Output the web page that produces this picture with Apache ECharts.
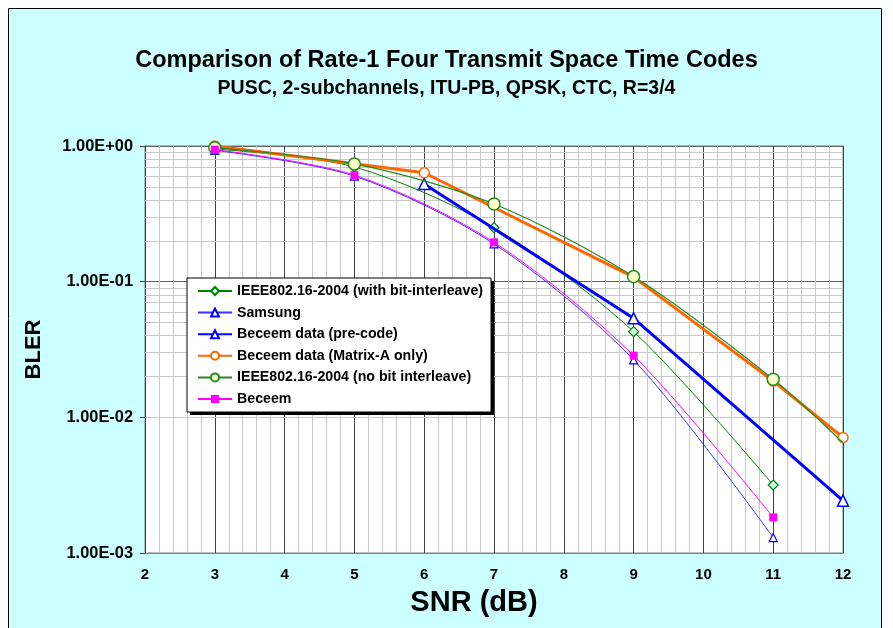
<!DOCTYPE html>
<html>
<head>
<meta charset="utf-8">
<script src="https://cdn.jsdelivr.net/npm/echarts@6/dist/echarts.min.js"></script>
<style>
html,body{margin:0;padding:0;background:#fff;}
#c{width:893px;height:628px;}
</style>
</head>
<body>
<div id="c"></div>
<script>
// ---- data ----
var titleText = 'Comparison of Rate-1 Four Transmit Space Time Codes';
var subtitleText = 'PUSC, 2-subchannels, ITU-PB, QPSK, CTC, R=3/4';
var xTicks = [2, 3, 4, 5, 6, 7, 8, 9, 10, 11, 12];
var yTickLabels = {'0': '1.00E+00', '-1': '1.00E-01', '-2': '1.00E-02', '-3': '1.00E-03'};
var yMinorValues = [0.002,0.003,0.004,0.005,0.006,0.007,0.008,0.009,
                    0.02,0.03,0.04,0.05,0.06,0.07,0.08,0.09,
                    0.2,0.3,0.4,0.5,0.6,0.7,0.8,0.9];

var seriesNames = [
  'IEEE802.16-2004 (with bit-interleave)',
  'Samsung',
  'Beceem data (pre-code)',
  'Beceem data (Matrix-A only)',
  'IEEE802.16-2004 (no bit interleave)',
  'Beceem'
];
var ieeeBitX = [3, 5, 7, 9, 11];
var ieeeBitY = [0.95, 0.70, 0.25, 0.0428, 0.00317];
var samsungX = [3, 5, 7, 9, 11];
var samsungY = [0.93, 0.60, 0.19, 0.0265, 0.0013];
var precodeX = [6, 9, 12];
var precodeY = [0.525, 0.0537, 0.00243];
var matrixAX = [3, 5, 6, 9, 11, 12];
var matrixAY = [1.0, 0.74, 0.635, 0.108, 0.0185, 0.0071];
var ieeeNoBitX = [3, 5, 7, 9, 11, 12];
var ieeeNoBitY = [0.97, 0.738, 0.374, 0.109, 0.0191, 0.0065];
var beceemX = [3, 5, 7, 9, 11];
var beceemY = [0.94, 0.61, 0.195, 0.0285, 0.00183];

function pairs(xs, ys) {
  return xs.map(function (x, i) { return [x, ys[i]]; });
}

var FONT = 'Liberation Sans, Arial, sans-serif';
var chart = echarts.init(document.getElementById('c'), null, {renderer: 'canvas'});

var noBitData = pairs(ieeeNoBitX, ieeeNoBitY);
noBitData[noBitData.length - 1] = {value: noBitData[noBitData.length - 1], symbol: 'none'};

var option = {
  animation: false,
  graphic: [
    {type: 'rect', z: -10, silent: true,
     shape: {x: 8.5, y: 8.5, width: 873, height: 660},
     style: {fill: '#CCFFFF', stroke: '#000', lineWidth: 1}},
    {type: 'rect', z: 19, silent: true,
     shape: {x: 190, y: 281, width: 304, height: 134},
     style: {fill: '#000'}}
  ],
  title: [
    {text: titleText, left: 'center', top: 44, padding: [5, 0, 5, 12],
     textStyle: {fontFamily: FONT, fontWeight: 'bold', fontSize: 23.5, color: '#000'}},
    {text: subtitleText, left: 'center', top: 74, padding: [5, 0, 5, 18],
     textStyle: {fontFamily: FONT, fontWeight: 'bold', fontSize: 19.5, color: '#000'}}
  ],
  legend: {
    orient: 'vertical', left: 187, top: 278,
    width: 303,
    padding: [6, 8, 6, 10],
    itemGap: 7.6, itemWidth: 34, itemHeight: 10,
    backgroundColor: '#fff', borderColor: '#000', borderWidth: 1,
    z: 20,
    data: seriesNames,
    textStyle: {fontFamily: FONT, fontWeight: 'bold', fontSize: 14.2, color: '#000'}
  },
  grid: {left: 145, right: 50, top: 146, bottom: 75, show: true,
         backgroundColor: '#fff', borderColor: '#808080', borderWidth: 1},
  xAxis: {
    type: 'value', min: 2, max: 12, interval: 1,
    name: 'SNR (dB)', nameLocation: 'middle', nameGap: 35,
    nameTextStyle: {fontFamily: FONT, fontWeight: 'bold', fontSize: 29, color: '#000', padding: [0, 40, 0, 0]},
    axisLine: {show: true, lineStyle: {color: '#808080'}},
    axisTick: {show: false},
    axisLabel: {margin: 14, fontFamily: FONT, fontWeight: 'bold', fontSize: 15, color: '#000',
                formatter: function (v) { return xTicks.indexOf(Math.round(v)) >= 0 ? String(Math.round(v)) : ''; }},
    splitLine: {show: true, lineStyle: {color: '#404040', width: 1}},
    minorTick: {show: false, splitNumber: 5},
    minorSplitLine: {show: true, lineStyle: {color: '#c8c8c8', width: 1}}
  },
  yAxis: {
    type: 'log', logBase: 10, min: 0.001, max: 1, splitNumber: 3,
    name: 'BLER', nameLocation: 'middle', nameGap: 100, nameRotate: 90,
    nameTextStyle: {fontFamily: FONT, fontWeight: 'bold', fontSize: 22, color: '#000'},
    axisLine: {show: true, lineStyle: {color: '#404040'}},
    axisTick: {show: true, length: 5, inside: false, lineStyle: {color: '#404040'}},
    axisLabel: {margin: 12, fontFamily: FONT, fontWeight: 'bold', fontSize: 16.4, color: '#000',
                formatter: function (v) {
                  var k = String(Math.round(Math.log(v) / Math.LN10));
                  return yTickLabels[k] || '';
                }},
    splitLine: {show: true, lineStyle: {color: '#606060', width: 1}}
  },
  series: [
    {name: '_minor', type: 'line', data: [[2, 1]], symbol: 'none', silent: true,
     lineStyle: {width: 0, opacity: 0}, z: 1, legendHoverLink: false,
     markLine: {silent: true, z: 1, symbol: ['none', 'none'], label: {show: false}, animation: false,
       lineStyle: {color: '#c8c8c8', type: 'solid', width: 1},
       emphasis: {disabled: true},
       data: yMinorValues.map(function (v) { return {yAxis: v}; })}},
    {name: seriesNames[0], type: 'line', z: 3, smooth: 0.3,
     data: pairs(ieeeBitX, ieeeBitY),
     symbol: 'diamond', symbolSize: 10,
     lineStyle: {color: '#008000', width: 1},
     itemStyle: {color: '#CCFFE6', borderColor: '#008000', borderWidth: 1.2}},
    {name: seriesNames[1], type: 'line', z: 4, smooth: 0.3,
     data: pairs(samsungX, samsungY),
     symbol: 'triangle', symbolSize: 8,
     lineStyle: {color: '#3333FF', width: 1},
     itemStyle: {color: '#fff', borderColor: '#0000FF', borderWidth: 1.2}},
    {name: seriesNames[2], type: 'line', z: 5,
     data: pairs(precodeX, precodeY),
     symbol: 'triangle', symbolSize: 11,
     lineStyle: {color: '#0000FF', width: 3},
     itemStyle: {color: '#fff', borderColor: '#0000FF', borderWidth: 1.5}},
    {name: seriesNames[3], type: 'line', z: 6,
     data: pairs(matrixAX, matrixAY),
     symbol: 'circle', symbolSize: 10,
     lineStyle: {color: '#FF6600', width: 3},
     itemStyle: {color: '#fff', borderColor: '#FF6600', borderWidth: 1.5}},
    {name: seriesNames[4], type: 'line', z: 7, smooth: 0.3,
     data: noBitData,
     symbol: 'circle', symbolSize: 12,
     lineStyle: {color: '#228B22', width: 1.2},
     itemStyle: {color: '#FFFFCC', borderColor: '#228B22', borderWidth: 1.5}},
    {name: seriesNames[5], type: 'line', z: 8, smooth: 0.3,
     data: pairs(beceemX, beceemY),
     symbol: 'rect', symbolSize: 8,
     lineStyle: {color: '#FF00FF', width: 1},
     itemStyle: {color: '#FF00FF', borderColor: '#FF00FF', borderWidth: 0}}
  ]
};
chart.setOption(option);
</script>
</body>
</html>
